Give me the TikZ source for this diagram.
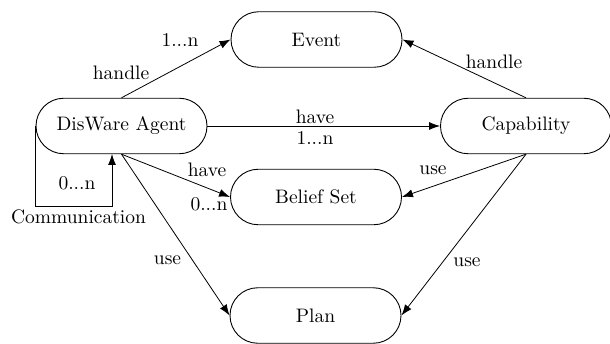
\documentclass[tikz,border=0pt]{standalone}
\usepackage{graphicx}
\usetikzlibrary{shapes.misc,arrows.meta}
\newcommand\tx[1]{\scalebox{1.95}{#1}}
\begin{document}
\begin{tikzpicture}[x=1pt,y=-1pt,
  every node/.style={font=\fontsize{10}{12}\selectfont},
  entity/.style={draw,line width=0.9pt,rounded rectangle,minimum width=171pt,minimum height=55.5pt,inner sep=0pt},
  lbl/.style={inner sep=0pt},
  arr/.style={line width=0.8pt,-{Latex[length=11pt,width=8pt]}}]
\useasboundingbox (0,0) rectangle (610,344);
\node[entity] (ev) at (316.5,39.5) {\tx{Event}};
\node[entity] (ag) at (121.5,126) {\tx{DisWare Agent}};
\node[entity] (cap) at (526,126) {\tx{Capability}};
\node[entity] (bel) at (316,197) {\tx{Belief Set}};
\node[entity] (plan) at (315.5,315.5) {\tx{Plan}};
\coordinate (loopend) at (112,154);

\draw[arr] (ag.north) -- (ev.west);
\draw[arr] (ag.east) -- (cap.west);
\draw[arr] (cap.north) -- (ev.east);
\draw[arr] (ag.south) -- (bel.west);
\draw[arr] (cap.south) -- (bel.east);
\draw[arr] (ag.south) -- (plan.west);
\draw[arr] (cap.south) -- (plan.east);
\draw[arr] (ag.west) -- ++(0,80) -| (loopend);

\node[lbl] (l1) at (180,40) {\tx{1...n}};
\node[lbl] (l2) at (121,73) {\tx{handle}};
\node[lbl] (l3) at (315,117) {\tx{have}};
\node[lbl] (l4) at (315,138) {\tx{1...n}};
\node[lbl] (l5) at (494,62) {\tx{handle}};
\node[lbl] (l6) at (207,170) {\tx{have}};
\node[lbl] (l7) at (209,204) {\tx{0...n}};
\node[lbl] (l8) at (433,170) {\tx{use}};
\node[lbl] (l9) at (167.5,260) {\tx{use}};
\node[lbl] (l10) at (467,262) {\tx{use}};
\node[lbl] (l11) at (77,183) {\tx{0...n}};
\node[lbl] (l12) at (78.5,217) {\tx{Communication}};
\end{tikzpicture}
\end{document}
